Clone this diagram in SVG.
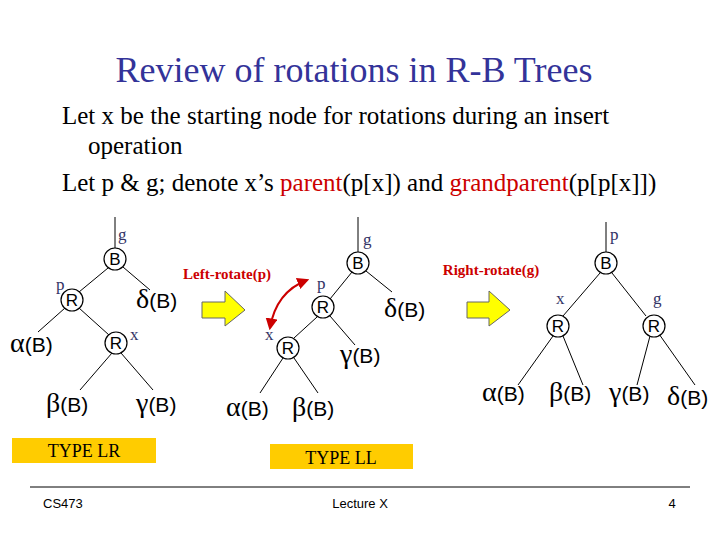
<svg xmlns="http://www.w3.org/2000/svg" width="720" height="540" viewBox="0 0 720 540">
<defs>
<style>
.n circle{fill:#fff;stroke:#000;stroke-width:1.2}
.n text{font-family:"Liberation Sans",Arial,sans-serif;font-size:17px;text-anchor:middle}
.lb{font-family:"Liberation Serif","Times New Roman",serif;font-size:17px;fill:#333366}
.lf{font-family:"Liberation Serif","Times New Roman",serif;font-size:28px}
.s{font-family:"Liberation Sans",Arial,sans-serif;font-size:21px}
.ln{stroke:#000;stroke-width:1;fill:none}
.ya{fill:#ffff00;stroke:#666;stroke-width:1}
.bx{fill:#ffcc00}
.rt{font-family:"Liberation Serif","Times New Roman",serif;font-weight:bold;font-size:15px;fill:#cc0000}
</style>
<marker id="ah" viewBox="0 0 10 10" refX="8" refY="5" markerWidth="6" markerHeight="6" orient="auto-start-reverse"><path d="M0,0L10,5L0,10z" fill="#cc0000"/></marker>
</defs>
<rect width="720" height="540" fill="#fff"/>
<g font-family="'Liberation Serif','Times New Roman',serif">
<text x="354" y="82" font-size="36" fill="#333399" text-anchor="middle">Review of rotations in R-B Trees</text>
<text font-size="25" x="62" y="124">Let x be the starting node for rotations during an insert</text>
<text font-size="25" x="88" y="154">operation</text>
<text font-size="25" x="62" y="191">Let p &amp; g; denote x’s <tspan fill="#cc0000">parent</tspan>(p[x]) and <tspan fill="#cc0000">grandparent</tspan>(p[p[x]])</text>
</g>

<g id="connectors">
<path class="ln" d="M115,217V248M108,268L79,292M123,267L150,290M65,308L38,332M79,308L109,335M112,353L80,390M121,353L153,390"/>
<path class="ln" d="M358,217V252M352,272L330,299M366,271L392,292M317,317L294,338M330,316L355,345M283,358L260,393M294,358L318,393"/>
<path class="ln" d="M606,222V252M600,273L563,316M612,273L646,316M553,336L518,385M563,336L583,385M650,336L637,385M659,334L695,385"/>
<path d="M270,328Q276,292 307,280" fill="none" stroke="#cc0000" stroke-width="2" marker-start="url(#ah)" marker-end="url(#ah)"/>
</g>

<g id="tree1">
<text class="lb" x="118" y="240">g</text>
<g class="n" id="n1"><circle cx="115" cy="259" r="11"/><text x="115" y="265">B</text></g>
<text class="lb" x="56" y="290">p</text>
<g class="n" id="n2"><circle cx="72" cy="300" r="11"/><text x="72" y="306">R</text></g>
<g class="n" id="n3"><circle cx="116" cy="343" r="11"/><text x="116" y="349">R</text></g>
<text class="lb" x="130" y="340">x</text>
<text class="lf" x="136" y="308">δ<tspan class="s">(B)</tspan></text>
<text class="lf" x="10" y="352">α<tspan class="s">(B)</tspan></text>
<text class="lf" x="46" y="412">β<tspan class="s">(B)</tspan></text>
<text class="lf" x="136" y="412">γ<tspan class="s">(B)</tspan></text>
<rect class="bx" x="12" y="438" width="144" height="25"/>
<text font-family="'Liberation Serif',serif" font-size="18" x="84" y="457" text-anchor="middle">TYPE  LR</text>
</g>

<g id="arrow1">
<path class="ya" d="M202,302H225V291L245,310L225,326V318H202Z"/>
<text class="rt" x="227" y="279" text-anchor="middle">Left-rotate(p)</text>
</g>

<g id="tree2">
<text class="lb" x="363" y="245">g</text>
<g class="n" id="n4"><circle cx="358" cy="263" r="11"/><text x="358" y="269">B</text></g>
<text class="lb" x="317" y="289">p</text>
<g class="n" id="n5"><circle cx="323" cy="307" r="11"/><text x="323" y="313">R</text></g>
<text class="lb" x="265" y="340">x</text>
<g class="n" id="n6"><circle cx="288" cy="348" r="11"/><text x="288" y="354">R</text></g>
<text class="lf" x="384" y="317">δ<tspan class="s">(B)</tspan></text>
<text class="lf" x="340" y="363">γ<tspan class="s">(B)</tspan></text>
<text class="lf" x="226" y="416">α<tspan class="s">(B)</tspan></text>
<text class="lf" x="292" y="416">β<tspan class="s">(B)</tspan></text>
<rect class="bx" x="270" y="444" width="143" height="25"/>
<text font-family="'Liberation Serif',serif" font-size="18" x="341" y="464" text-anchor="middle">TYPE  LL</text>
</g>

<g id="arrow2">
<path class="ya" d="M467,302H489V291L510,310L489,326V318H467Z"/>
<text class="rt" x="491" y="275" text-anchor="middle">Right-rotate(g)</text>
</g>

<g id="tree3">
<text class="lb" x="610" y="240">p</text>
<g class="n" id="n7"><circle cx="606" cy="263" r="11"/><text x="606" y="269">B</text></g>
<text class="lb" x="556" y="304">x</text>
<g class="n" id="n8"><circle cx="558" cy="326" r="11"/><text x="558" y="332">R</text></g>
<text class="lb" x="653" y="304">g</text>
<g class="n" id="n9"><circle cx="654" cy="326" r="11"/><text x="654" y="332">R</text></g>
<text class="lf" x="482" y="401">α<tspan class="s">(B)</tspan></text>
<text class="lf" x="549" y="401">β<tspan class="s">(B)</tspan></text>
<text class="lf" x="609" y="401">γ<tspan class="s">(B)</tspan></text>
<text class="lf" x="667" y="405">δ<tspan class="s">(B)</tspan></text>
</g>

<line x1="30" y1="487" x2="690" y2="487" stroke="#000" stroke-width="1"/>
<g font-family="'Liberation Sans',Arial,sans-serif" font-size="13">
<text x="43" y="508">CS473</text>
<text x="360" y="508" text-anchor="middle">Lecture X</text>
<text x="672" y="508" text-anchor="middle">4</text>
</g>
</svg>
